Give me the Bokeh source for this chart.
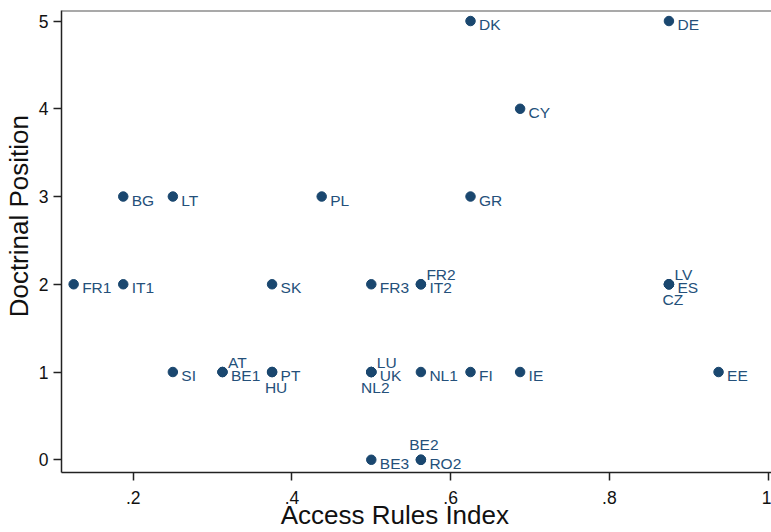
from bokeh.plotting import figure
from bokeh.models import Range1d, ColumnDataSource, FixedTicker, Span, CustomJSTickFormatter
from bokeh.core.properties import value
from bokeh.embed import file_html
from bokeh.resources import INLINE

# ---- data ----
codes = ["DK", "DE", "CY", "BG", "LT", "PL", "GR", "FR1", "IT1", "SK",
         "FR3", "FR2", "IT2", "LV", "ES", "CZ", "SI", "AT", "BE1", "PT",
         "HU", "LU", "UK", "NL2", "NL1", "FI", "IE", "EE", "BE2", "BE3", "RO2"]
access = [0.625, 0.875, 0.6875, 0.1875, 0.25, 0.4375, 0.625, 0.125, 0.1875, 0.375,
          0.5, 0.5625, 0.5625, 0.875, 0.875, 0.875, 0.25, 0.3125, 0.3125, 0.375,
          0.375, 0.5, 0.5, 0.5, 0.5625, 0.625, 0.6875, 0.9375, 0.5625, 0.5, 0.5625]
doctrinal = [5, 5, 4, 3, 3, 3, 3, 2, 2, 2,
             2, 2, 2, 2, 2, 2, 1, 1, 1, 1,
             1, 1, 1, 1, 1, 1, 1, 1, 0, 0, 0]
# marker-label clock positions (Stata style)
label_clock = [3, 3, 3, 3, 3, 3, 3, 3, 3, 3,
               3, 2, 3, 2, 3, 6, 3, 2, 3, 3,
               6, 2, 3, 6, 3, 3, 3, 3, 12, 3, 3]

x_ticks = [0.2, 0.4, 0.6, 0.8, 1.0]
x_tick_labels = [".2", ".4", ".6", ".8", "1"]
y_ticks = [0, 1, 2, 3, 4, 5]
y_tick_labels = ["0", "1", "2", "3", "4", "5"]
x_title = "Access Rules Index"
y_title = "Doctrinal Position"

NAVY = "#1a476f"
LABEL_NAVY = "#24507a"
FONT = "Liberation Sans"
X0, X1 = 0.1097, 1.0042
Y0, Y1 = -0.145, 5.12
NBSP = "\u00a0"

p = figure(width=771, height=532, output_backend="svg", toolbar_location=None,
           x_range=Range1d(X0, X1), y_range=Range1d(Y0, Y1),
           min_border_left=61, min_border_right=0, min_border_top=10, min_border_bottom=60)
p.xgrid.visible = False
p.ygrid.visible = False
p.outline_line_color = None
p.background_fill_color = "white"
p.border_fill_color = "white"

p.add_layout(Span(location=Y1, dimension="width", line_color="#555555", line_width=2))

p.scatter(access, doctrinal, size=9.5, color=NAVY, line_color=NAVY)

# label offsets per clock position: (dx, dy, align)
offs = {3: (8.5, 3.5, "left"), 2: (5.5, -9.5, "left"), 6: (4, 15.5, "center"), 12: (3, -15, "center")}
for clock, (dx, dy, align) in offs.items():
    idx = [i for i, c in enumerate(label_clock) if c == clock]
    src = ColumnDataSource(dict(x=[access[i] for i in idx], y=[doctrinal[i] for i in idx],
                                t=[codes[i] for i in idx]))
    p.text(x="x", y="y", text="t", source=src, x_offset=dx, y_offset=dy,
           text_align=align, text_baseline="alphabetic", text_color=LABEL_NAVY,
           text_font=value(FONT), text_font_size="15.5px")

for ax, ticks, labels in ((p.xaxis[0], x_ticks, x_tick_labels), (p.yaxis[0], y_ticks, y_tick_labels)):
    ax.ticker = FixedTicker(ticks=ticks)
    ax.formatter = CustomJSTickFormatter(args=dict(tv=ticks, tl=labels), code="""
        let best = 0;
        for (let i = 0; i < tv.length; i++) { if (Math.abs(tv[i]-tick) < Math.abs(tv[best]-tick)) best = i; }
        return tl[best];
    """)
    ax.minor_tick_line_color = None
    ax.major_tick_out = 8
    ax.major_tick_in = 0
    ax.major_tick_line_color = "#222222"
    ax.major_tick_line_width = 1.5
    ax.axis_line_color = "#222222"
    ax.axis_line_width = 1.5
    ax.major_label_text_font = FONT
    ax.major_label_text_font_size = "17.5px"
    ax.major_label_text_color = "#111111"
    ax.axis_label_text_font = FONT
    ax.axis_label_text_font_style = "normal"
    ax.axis_label_text_font_size = "26px"
    ax.axis_label_text_color = "#111111"

# non-breaking spaces shift the centred titles the way the reference places them
p.xaxis.axis_label = x_title + NBSP * 6
p.yaxis.axis_label = NBSP * 7 + y_title
p.xaxis.major_label_standoff = 10
p.xaxis.axis_label_standoff = -7
p.yaxis.major_label_standoff = 5
p.yaxis.axis_label_standoff = 2

open("out.html", "w").write(file_html(p, INLINE))
